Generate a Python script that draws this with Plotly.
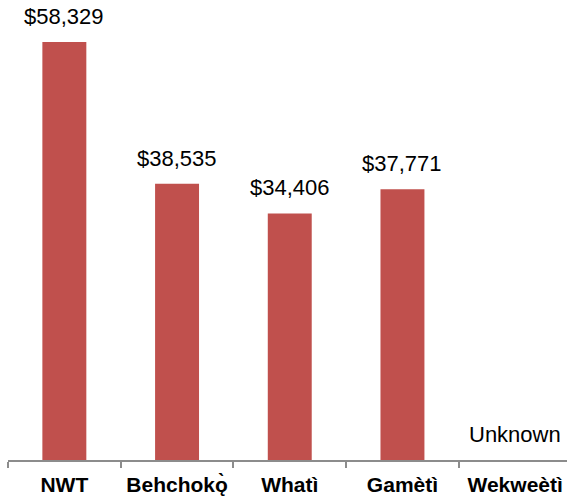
import plotly.graph_objects as go

communities = ["NWT", "Behchokǫ̀", "Whatì", "Gamètì", "Wekweètì"]
income = [58329, 38535, 34406, 37771, 0]
labels = ["$58,329", "$38,535", "$34,406", "$37,771", "Unknown"]

BAR = "#C0504D"
AXIS = "#8C8C8C"
FONT = "Liberation Sans, Arial, sans-serif"

fig = go.Figure(go.Bar(
    x=communities,
    y=income,
    marker=dict(color=BAR, line=dict(width=0)),
    width=0.39,
    hoverinfo="x+y",
))

for c, v, t in zip(communities, income, labels):
    fig.add_annotation(
        x=c, y=v, text=t, showarrow=False,
        yanchor="bottom", yshift=11,
        font=dict(family=FONT, size=22, color="#000000"),
    )

fig.update_layout(
    width=567, height=503,
    paper_bgcolor="white",
    plot_bgcolor="white",
    showlegend=False,
    margin=dict(l=8, r=0, t=0, b=43),
    font=dict(family=FONT, color="#000000"),
    xaxis=dict(
        type="category",
        range=[-0.5, 4.46],
        showline=True, linecolor=AXIS, linewidth=1.5,
        ticks="outside", tickson="boundaries",
        ticklen=6, tickcolor=AXIS, tickwidth=1.5,
        ticklabelstandoff=5,
        tickfont=dict(family=FONT, size=21, color="#000000", weight="bold"),
        showgrid=False,
    ),
    yaxis=dict(
        range=[0, 64190],
        visible=False,
        showgrid=False,
        zeroline=False,
    ),
)

# drop the page's default body margin so the figure sits at the window corner
fig.write_html("out.html", config={"displayModeBar": False},
               post_script="document.body.style.margin='0';")
